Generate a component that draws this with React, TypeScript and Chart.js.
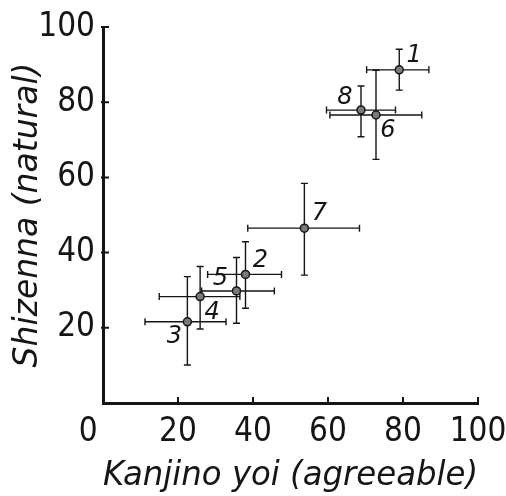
import { useEffect, useRef } from 'react';
import { Chart, registerables } from 'chart.js';

Chart.register(...registerables);

const pointLabels = ['1', '2', '3', '4', '5', '6', '7', '8'];
const xValues = [79.0, 38.0, 22.5, 25.9, 35.6, 72.8, 53.7, 68.8];
const yValues = [88.6, 34.2, 21.6, 28.3, 29.8, 76.6, 46.5, 77.9];
const xLow = [70.3, 27.9, 11.2, 15.0, 26.3, 60.5, 38.6, 59.6];
const xHigh = [86.9, 47.6, 32.8, 36.5, 45.7, 85.0, 68.4, 78.0];
const yLow = [83.2, 25.2, 10.1, 19.7, 21.2, 64.8, 34.0, 70.8];
const yHigh = [94.1, 42.9, 33.6, 36.3, 38.7, 88.5, 58.4, 84.3];
const xTicks = [0, 20, 40, 60, 80, 100];
const yTicks = [20, 40, 60, 80, 100];
const xTitle = 'Kanjino yoi (agreeable)';
const yTitle = 'Shizenna (natural)';

// label placement relative to each point (style, not data)
const labelAnchors = ['ne', 'ne', 'sw', 'se', 'nw', 'se', 'ne', 'nw'];
const anchorOffsets: Record<string, [number, number]> = {
  ne: [15, -14],
  nw: [-16, -12],
  se: [12, 16],
  sw: [-13, 15],
};

const INK = '#151515';
const tickFamily = "'Liberation Sans Narrow', 'DejaVu Sans Condensed', 'DejaVu Sans', sans-serif";
const titleFamily = "'DejaVu Sans', sans-serif";

const errorBarPlugin = {
  id: 'errorBars',
  beforeDatasetsDraw(chart: any) {
    const { ctx } = chart;
    const x = chart.scales.x;
    const y = chart.scales.y;
    const cap = 3.5;
    ctx.save();
    ctx.strokeStyle = INK;
    ctx.lineWidth = 1.4;
    xValues.forEach((xv, i) => {
      const px = x.getPixelForValue(xv);
      const py = y.getPixelForValue(yValues[i]);
      const xl = x.getPixelForValue(xLow[i]);
      const xh = x.getPixelForValue(xHigh[i]);
      const yl = y.getPixelForValue(yLow[i]);
      const yh = y.getPixelForValue(yHigh[i]);
      ctx.beginPath();
      ctx.moveTo(xl, py);
      ctx.lineTo(xh, py);
      ctx.moveTo(xl, py - cap);
      ctx.lineTo(xl, py + cap);
      ctx.moveTo(xh, py - cap);
      ctx.lineTo(xh, py + cap);
      ctx.moveTo(px, yl);
      ctx.lineTo(px, yh);
      ctx.moveTo(px - cap, yl);
      ctx.lineTo(px + cap, yl);
      ctx.moveTo(px - cap, yh);
      ctx.lineTo(px + cap, yh);
      ctx.stroke();
    });
    ctx.restore();
  },
  afterDatasetsDraw(chart: any) {
    const { ctx } = chart;
    const x = chart.scales.x;
    const y = chart.scales.y;
    ctx.save();
    ctx.fillStyle = INK;
    ctx.font = "italic 24px 'DejaVu Sans', sans-serif";
    ctx.textAlign = 'center';
    ctx.textBaseline = 'middle';
    pointLabels.forEach((lab, i) => {
      const [dx, dy] = anchorOffsets[labelAnchors[i]];
      ctx.fillText(lab, x.getPixelForValue(xValues[i]) + dx, y.getPixelForValue(yValues[i]) + dy);
    });
    ctx.restore();
  },
  afterDraw(chart: any) {
    const { ctx, chartArea } = chart;
    const x = chart.scales.x;
    const y = chart.scales.y;
    ctx.save();
    ctx.strokeStyle = INK;
    ctx.lineWidth = 2;
    ctx.beginPath();
    xTicks.forEach((v) => {
      if (v === 0) return;
      const px = x.getPixelForValue(v);
      ctx.moveTo(px, chartArea.bottom);
      ctx.lineTo(px, chartArea.bottom - 6);
    });
    yTicks.forEach((v) => {
      const py = y.getPixelForValue(v);
      ctx.moveTo(chartArea.left - 2, py);
      ctx.lineTo(chartArea.left + 6, py);
    });
    ctx.stroke();
    ctx.restore();
  },
};

export default function App() {
  const ref = useRef<HTMLCanvasElement | null>(null);
  useEffect(() => {
    if (!ref.current) return;
    const chart = new Chart(ref.current, {
      type: 'scatter',
      data: {
        datasets: [
          {
            data: xValues.map((xv, i) => ({ x: xv, y: yValues[i] })),
            backgroundColor: '#7a7a7a',
            borderColor: INK,
            borderWidth: 1.5,
            pointRadius: 4,
          },
        ],
      },
      options: {
        animation: false,
        responsive: false,
        maintainAspectRatio: false,
        layout: { padding: { left: 0, right: 28, top: 27, bottom: 0 } },
        plugins: { legend: { display: false }, tooltip: { enabled: false } },
        scales: {
          x: {
            type: 'linear',
            min: 0,
            max: 100,
            afterBuildTicks: (s: any) => {
              s.ticks = xTicks.map((v) => ({ value: v }));
            },
            afterFit: (s: any) => {
              s.height = 93;
              s.paddingLeft = 0;
              s.paddingRight = 0;
            },
            grid: { display: false, drawTicks: false },
            border: { display: true, color: INK, width: 3 },
            ticks: {
              color: INK,
              padding: 10,
              maxRotation: 0,
              autoSkip: false,
              font: { family: tickFamily, size: 33, style: 'normal' },
              callback: (v: any) => (v === 0 ? '0\u2003' : String(v)),
            },
            title: {
              display: true,
              text: xTitle,
              color: INK,
              font: { family: titleFamily, size: 33, style: 'italic', weight: 'normal' },
              padding: { top: 0, bottom: 0 },
            },
          },
          y: {
            type: 'linear',
            min: 0,
            max: 100,
            afterBuildTicks: (s: any) => {
              s.ticks = yTicks.map((v) => ({ value: v }));
            },
            afterFit: (s: any) => {
              s.width = 103;
              s.paddingTop = 0;
              s.paddingBottom = 0;
            },
            grid: { display: false, drawTicks: false },
            border: { display: true, color: INK, width: 3 },
            ticks: {
              color: INK,
              padding: 8,
              autoSkip: false,
              font: { family: tickFamily, size: 33, style: 'normal' },
              callback: (v: any) => String(v),
            },
            title: {
              display: true,
              text: yTitle,
              color: INK,
              font: { family: titleFamily, size: 33, style: 'italic', weight: 'normal' },
              padding: { top: 9, bottom: 0 },
            },
          },
        },
      },
      plugins: [errorBarPlugin],
    } as any);
    return () => chart.destroy();
  }, []);
  return (
    <div style={{ position: 'absolute', left: 0, top: 0, width: 506, height: 496, background: '#fff' }}>
      <canvas ref={ref} width={506} height={496} style={{ display: 'block' }} />
    </div>
  );
}
